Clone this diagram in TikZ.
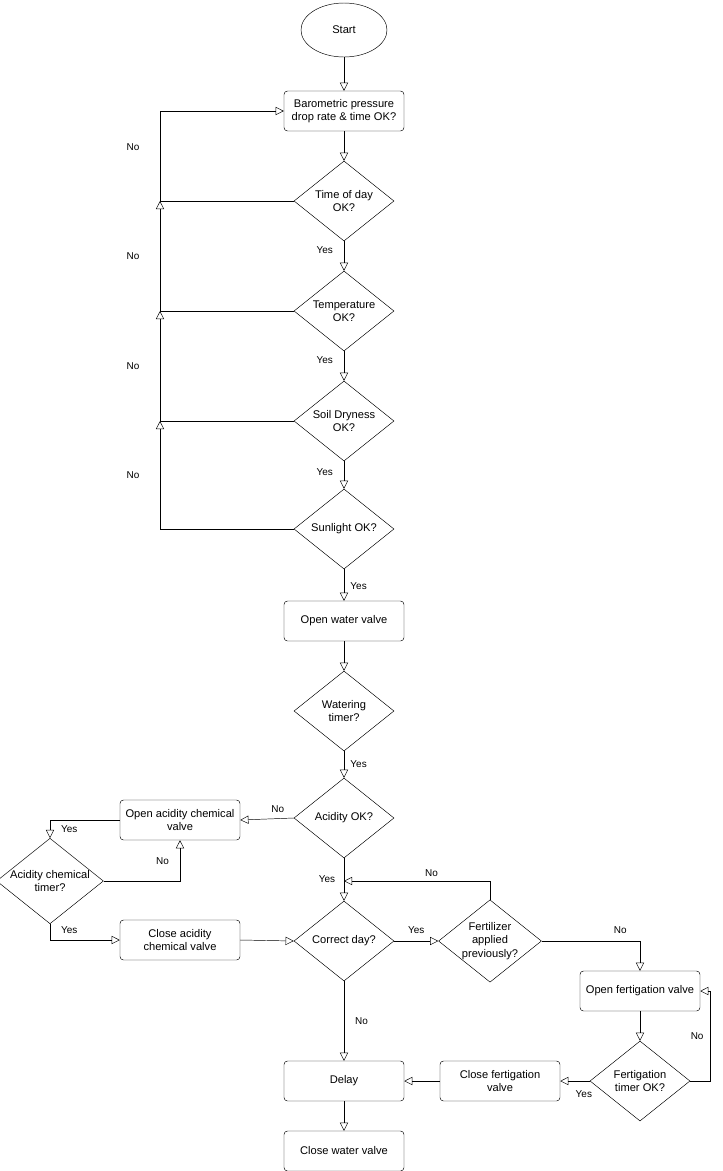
\documentclass[tikz,border=0pt]{standalone}
\usepackage{fontspec}
\setmainfont{Liberation Sans}
\usetikzlibrary{arrows.meta,shapes.geometric}

\begin{document}
\begin{tikzpicture}[x=0.03cm,y=-0.03cm,>={Triangle[open,length=7pt,width=7pt]},
  font=\fontsize{9.5}{11.5}\selectfont,
  box/.style={draw,rounded corners=3pt,minimum width=3.6cm,minimum height=1.2cm,align=center,inner sep=1pt},
  dec/.style={draw,diamond,aspect=1.25,minimum width=3cm,minimum height=2.4cm,align=center,inner sep=0pt},
  lbl/.style={font=\fontsize{8.5}{10}\selectfont}]
\useasboundingbox (0,0) rectangle (722,1171);

\node[draw,ellipse,minimum width=2.58cm,minimum height=1.62cm] (st) at (344,30) {Start};
\node[box] (bp) at (344,111) {Barometric pressure\\drop rate \& time OK?};
\node[dec] (td) at (344,201) {Time of day\\OK?};
\node[dec] (tp) at (344,311) {Temperature\\OK?};
\node[dec] (sd) at (344,421) {Soil Dryness\\OK?};
\node[dec] (sl) at (344,529) {Sunlight OK?};
\node[box] (ow) at (344,621) {Open water valve};
\node[dec] (wt) at (344,711) {Watering\\timer?};
\node[dec] (ac) at (344,818) {Acidity OK?};
\node[box] (oa) at (180,820) {Open acidity chemical\\valve};
\node[dec] (at) at (50,881) {Acidity chemical\\timer?};
\node[box] (ca) at (180,940) {Close acidity\\chemical valve};
\node[dec] (cd) at (344,941) {Correct day?};
\node[dec] (fa) at (490,941) {Fertilizer\\applied\\previously?};
\node[box] (of) at (640,991) {Open fertigation valve};
\node[dec] (ft) at (640,1081) {Fertigation\\timer OK?};
\node[box] (cf) at (500,1081) {Close fertigation\\valve};
\node[box] (dl) at (344,1081) {Delay};
\node[box] (cw) at (344,1151) {Close water valve};

\coordinate (j1) at (160,201);
\coordinate (j2) at (160,311);
\coordinate (j3) at (160,421);
\coordinate (j4) at (160,529);

% main column
\draw[->] (st) -- (bp);
\draw[->] (bp) -- (td);
\draw[->] (td) -- node[lbl,left=6pt,pos=0.3] {Yes} (tp);
\draw[->] (tp) -- node[lbl,left=6pt,pos=0.3] {Yes} (sd);
\draw[->] (sd) -- node[lbl,left=6pt,pos=0.4] {Yes} (sl);
\draw[->] (sl) -- node[lbl,right=2pt,pos=0.55] {Yes} (ow);
\draw[->] (ow) -- (wt);
\draw[->] (wt) -- node[lbl,right=2pt] {Yes} (ac);

% loop backs
\draw[->] (td.west) -- (j1) |- node[lbl,pos=0.3,left=14pt] {No} (bp.west);
\draw[->] (tp.west) -- (j2) -- node[lbl,pos=0.5,left=14pt] {No} (j1);
\draw[->] (sd.west) -- (j3) -- node[lbl,pos=0.5,left=14pt] {No} (j2);
\draw[->] (sl.west) -- (j4) -- node[lbl,pos=0.5,left=14pt] {No} (j3);

% acidity branch
\draw[->] (ac.west) -- node[lbl,above=2pt,pos=0.3] {No} (oa.east);
\draw[->] (oa.west) -| node[lbl,pos=0.75,right=6pt] {Yes} (at.north);
\draw[->] (at.east) -| node[lbl,pos=0.75,left=6pt] {No} (oa.south);
\draw[->] (at.south) |- node[lbl,pos=0.2,right=6pt] {Yes} (ca.west);
\draw[->] (ca.east) -- (cd.west);
\draw[->] (ac.south) -- node[lbl,left=4pt,pos=0.5] {Yes} (cd.north);

% fertigation branch
\draw[->] (fa.north) |- node[lbl,pos=0.7,above] {No} (344,881);
\draw[->] (cd.east) -- node[lbl,above=3pt] {Yes} (fa.west);
\draw[->] (fa.east) -| node[lbl,pos=0.4,above=3pt] {No} (of.north);
\draw[->] (of) -- (ft);
\draw[->] (ft.east) -- (710,1081) |- node[lbl,pos=0.25,left=2pt] {No} (of.east);
\draw[->] (ft.west) -- node[lbl,pos=0.2,below=5pt] {Yes} (cf.east);
\draw[->] (cf.west) -- (dl.east);
\draw[->] (cd.south) -- node[lbl,right=6pt] {No} (dl.north);
\draw[->] (dl) -- (cw);
\end{tikzpicture}
\end{document}
